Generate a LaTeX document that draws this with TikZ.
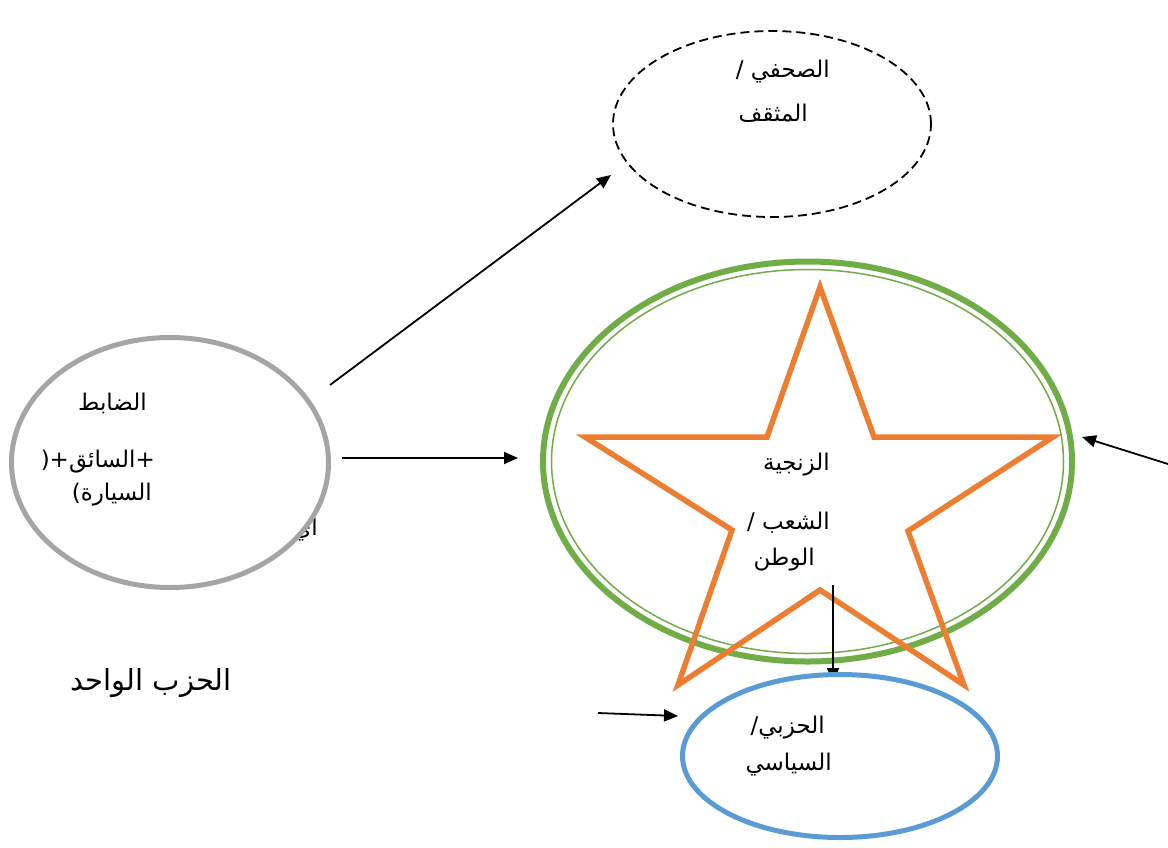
\documentclass[tikz,border=0pt]{standalone}
\usepackage{fontspec}
\newfontfamily\arabicfont[Script=Arabic]{DejaVu Sans}
\newfontfamily\plainfont{DejaVu Sans}
\TeXXeTstate=1
\usetikzlibrary{arrows.meta,shapes.geometric}
\newcommand{\rtl}[1]{\beginR #1\endR}
\newcommand{\ltrsym}[1]{{\plainfont #1}}
\definecolor{cgrey}{HTML}{A5A5A5}
\definecolor{cgreen}{HTML}{70AD47}
\definecolor{corange}{HTML}{ED7D31}
\definecolor{cblue}{HTML}{5B9BD5}
\tikzset{
  arr/.style={line width=1.8pt, -{Triangle[length=14pt,width=12pt]}},
  lbl/.style={font=\arabicfont\fontsize{23}{27}\selectfont, inner sep=0pt, anchor=east},
  bigl/.style={font=\arabicfont\fontsize{29}{33}\selectfont, inner sep=0pt, anchor=east},
  oval/.style={ellipse, inner sep=0pt, fill=white}
}
\begin{document}
\begin{tikzpicture}[x=1pt,y=-1pt]
\useasboundingbox[fill=white] (0,0) rectangle (1168,847);

% text partly hidden behind the grey oval
\node[lbl] (hidden) at (318,530) {\rtl{اي}};

% officer oval
\node[oval, draw=cgrey, line width=5pt, minimum width=317pt, minimum height=250pt]
  (officer) at (170,462.5) {};
\node[lbl] (t1) at (147,403) {\rtl{الضابط}};
\node[lbl] (t2) at (155,462) {\ltrsym{)+}\rtl{السائق}\ltrsym{+}};
\node[lbl] (t3) at (152,495) {\ltrsym{(}\rtl{السيارة}};

% journalist oval
\node[ellipse, inner sep=0pt, draw, line width=1.8pt, dash pattern=on 9pt off 5pt,
  minimum width=318pt, minimum height=186pt] (journ) at (772,124) {};
\node[lbl] (t4) at (830,72) {\ltrsym{/ }\rtl{الصحفي}};
\node[lbl] (t5) at (808,113) {\rtl{المثقف}};

% people oval (double green ring)
\node[ellipse, inner sep=0pt, draw=cgreen, line width=6pt,
  minimum width=529pt, minimum height=400pt] (people) at (807.5,461.5) {};
\node[ellipse, inner sep=0pt, draw=cgreen, line width=1.5pt,
  minimum width=512pt, minimum height=384pt] (peoplein) at (807.5,461.5) {};

% star
\draw[corange, line width=5.5pt, line join=miter, miter limit=20]
  (820,287) -- (874,437) -- (1053,437) -- (908,531) -- (964,685)
  -- (820,590) -- (678,685) -- (732,530) -- (585,437) -- (767,437) -- cycle;
\node[lbl] (t6) at (830,465) {\rtl{الزنجية}};
\node[lbl] (t7) at (830,523) {\ltrsym{/ }\rtl{الشعب}};
\node[lbl] (t8) at (815,560) {\rtl{الوطن}};

% arrow down towards the party oval
\coordinate (dtop) at (833,585);
\coordinate (dend) at (833,682);
\draw[arr] (dtop) -- (dend);

% party oval
\node[oval, draw=cblue, line width=5pt, minimum width=315pt, minimum height=163pt]
  (party) at (840,756) {};
\node[lbl] (t9) at (825,728) {\ltrsym{/}\rtl{الحزبي}};
\node[lbl] (t10) at (832,765) {\rtl{السياسي}};

% single party caption
\node[bigl] (onep) at (232,683) {\rtl{الحزب الواحد}};

% connectors
\coordinate (a1s) at (330,385);
\coordinate (a1e) at (611,175);
\coordinate (a2s) at (342,458);
\coordinate (a2e) at (518,458);
\coordinate (a3s) at (1168,464);
\coordinate (a3e) at (1082,437);
\coordinate (a4s) at (598,713);
\coordinate (a4e) at (678,716);
\draw[arr] (a1s) -- (a1e);
\draw[arr] (a2s) -- (a2e);
\draw[arr] (a3s) -- (a3e);
\draw[arr] (a4s) -- (a4e);
\end{tikzpicture}
\end{document}
